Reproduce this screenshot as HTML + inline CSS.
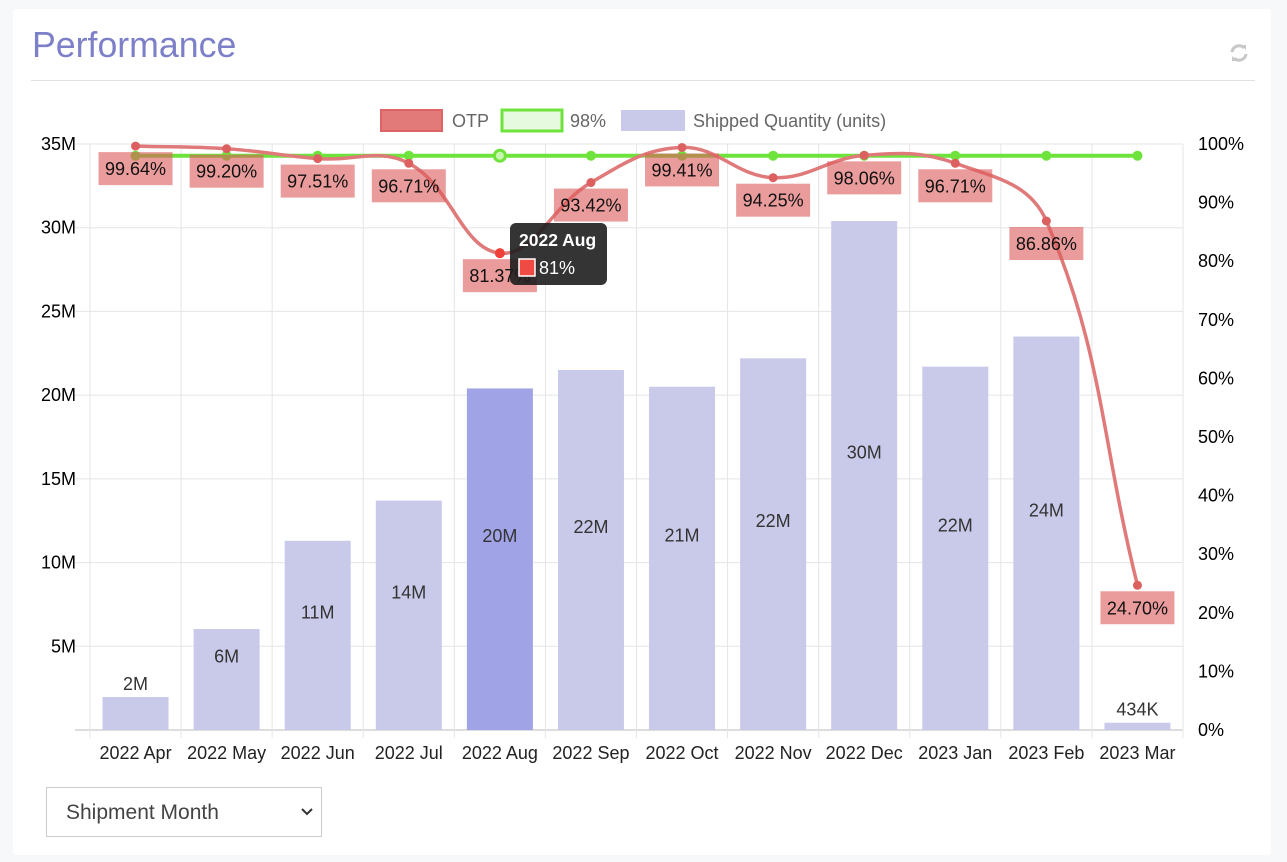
<!DOCTYPE html>
<html><head><meta charset="utf-8"><style>
body{margin:0;width:1287px;height:862px;background:#f7f8fa;font-family:"Liberation Sans",sans-serif;overflow:hidden;position:relative}
.card{position:absolute;left:13px;top:9px;width:1258px;height:846px;background:#fff;border-radius:4px}
.title{position:absolute;left:32px;top:25px;font-size:35.7px;color:#7d80c9}
.hr{position:absolute;left:31px;top:80px;width:1224px;height:1px;background:#e2e2e2}
.sel{position:absolute;left:46px;top:787px;width:276px;height:50px;border:1px solid #ccc;box-sizing:border-box;font-size:21px;color:#444;padding:13px 0 0 19px}
</style></head><body>
<div class="card"></div>
<div class="title">Performance</div>
<div class="hr"></div>
<svg style="position:absolute;left:1228px;top:42px" width="22" height="22" viewBox="0 0 22 22"><path d="M4 10a7 7 0 0 1 12-4" stroke="#c8c8c8" stroke-width="3" fill="none"/><path d="M18 12a7 7 0 0 1-12 4" stroke="#c8c8c8" stroke-width="3" fill="none"/><path d="M13 3l5 0 0 5z M9 19l-5 0 0-5z" fill="#c8c8c8"/></svg>
<svg id="c" style="position:absolute;left:0;top:0" width="1287" height="862" font-family="Liberation Sans, sans-serif"></svg>
<div class="sel">Shipment Month<svg style="position:absolute;left:253px;top:19px" width="14" height="10"><path d="M2 2l5 5 5-5" stroke="#333" stroke-width="2" fill="none"/></svg></div>
<script>
var s='',L=90,R=1183,T=144,B=730,W=(R-L)/12;
var months=['2022 Apr','2022 May','2022 Jun','2022 Jul','2022 Aug','2022 Sep','2022 Oct','2022 Nov','2022 Dec','2023 Jan','2023 Feb','2023 Mar'];
var q=[1.97,6.03,11.3,13.7,20.4,21.5,20.5,22.2,30.4,21.7,23.5,0.434];
var ql=['2M','6M','11M','14M','20M','22M','21M','22M','30M','22M','24M','434K'];
var o=[99.64,99.20,97.51,96.71,81.37,93.42,99.41,94.25,98.06,96.71,86.86,24.70];
function yq(v){return B-v/35*(B-T)}function yo(v){return B-v/100*(B-T)}
for(var i=0;i<=7;i++){var y=B-i*(B-T)/7;s+='<line x1="75" x2="'+R+'" y1="'+y+'" y2="'+y+'" stroke="'+(i==0?'#bbb':'#e5e5e5')+'"/>';if(i>0)s+='<text x="76" y="'+(y+6)+'" font-size="18" text-anchor="end">'+(i*5)+'M</text>';}
for(var i=0;i<=10;i++){var y=B-i*(B-T)/10;s+='<text x="1198" y="'+(y+6)+'" font-size="18">'+(i*10)+'%</text>';}
for(var i=0;i<=12;i++){var x=L+i*W;s+='<line x1="'+x+'" x2="'+x+'" y1="'+T+'" y2="'+(B+8)+'" stroke="#e5e5e5"/>';}
for(var i=0;i<12;i++){var cx=L+W*(i+.5),y=yq(q[i]);s+='<rect x="'+(cx-33)+'" y="'+y+'" width="66" height="'+(B-y)+'" fill="'+(i==4?'#a0a3e6':'#c9c9e9')+'"/>';
var ly=(i==0||i==11)?y-7:(y+B)/2-17;s+='<text x="'+cx+'" y="'+ly+'" font-size="18" fill="#333" text-anchor="middle">'+ql[i]+'</text>';
s+='<text x="'+cx+'" y="'+(B+29)+'" font-size="18" text-anchor="middle" fill="#222">'+months[i]+'</text>';}
var gy=yo(98);s+='<line x1="'+(L+W/2)+'" x2="'+(R-W/2)+'" y1="'+gy+'" y2="'+gy+'" stroke="#6ee33b" stroke-width="4"/>';
for(var i=0;i<12;i++){var cx=L+W*(i+.5);s+=(i==4?'<circle cx="'+cx+'" cy="'+gy+'" r="5.5" fill="#c8f5b0" stroke="#6ee33b" stroke-width="3"/>':'<circle cx="'+cx+'" cy="'+gy+'" r="5" fill="#6ee33b"/>');}
var P=o.map(function(v,i){return[L+W*(i+.5),yo(v)]});var t=0.4,d='M'+P[0];
function cp(p0,p1,p2){var d01=Math.hypot(p1[0]-p0[0],p1[1]-p0[1]),d12=Math.hypot(p2[0]-p1[0],p2[1]-p1[1]);var s01=d01/(d01+d12),s12=d12/(d01+d12);var fa=t*s01,fb=t*s12;return[[p1[0]-fa*(p2[0]-p0[0]),p1[1]-fa*(p2[1]-p0[1])],[p1[0]+fb*(p2[0]-p0[0]),p1[1]+fb*(p2[1]-p0[1])]]}
var C=P.map(function(p,i){return cp(P[Math.max(0,i-1)],p,P[Math.min(11,i+1)])});
for(var i=1;i<12;i++){d+=' C'+C[i-1][1]+' '+C[i][0]+' '+P[i];}
s+='<path d="'+d+'" fill="none" stroke="#e07a7a" stroke-width="3.5"/>';
for(var i=0;i<12;i++){s+='<circle cx="'+P[i][0]+'" cy="'+P[i][1]+'" r="'+(i==4?5:4.5)+'" fill="'+(i==4?'#f0403a':'#dc6060')+'"/>';
s+='<rect x="'+(P[i][0]-37)+'" y="'+(P[i][1]+6)+'" width="74" height="33" fill="rgba(220,90,90,0.6)"/><text x="'+P[i][0]+'" y="'+(P[i][1]+29)+'" font-size="18" text-anchor="middle" fill="#111">'+o[i].toFixed(2)+'%</text>';}
s+='<rect x="510" y="223" width="97" height="62" rx="6" fill="rgba(30,30,30,0.9)"/><text x="519" y="246" font-size="17.5" font-weight="bold" fill="#fff">2022 Aug</text><rect x="519" y="259" width="16" height="17" fill="#f04a44" stroke="#fff" stroke-width="1.5"/><text x="539" y="274" font-size="18" fill="#fff">81%</text>';
s+='<rect x="381" y="110" width="61" height="21" fill="#e37a7a" stroke="#dc6464" stroke-width="2"/><text x="452" y="127" font-size="18" fill="#666">OTP</text>';
s+='<rect x="502" y="110" width="60" height="21" fill="#e6fae0" stroke="#6ee33b" stroke-width="3"/><text x="570" y="127" font-size="18" fill="#666">98%</text>';
s+='<rect x="621" y="110" width="64" height="21" fill="#c9c9e9"/><text x="693" y="127" font-size="18" fill="#666">Shipped Quantity (units)</text>';
document.getElementById('c').innerHTML=s;
</script>
</body></html>
